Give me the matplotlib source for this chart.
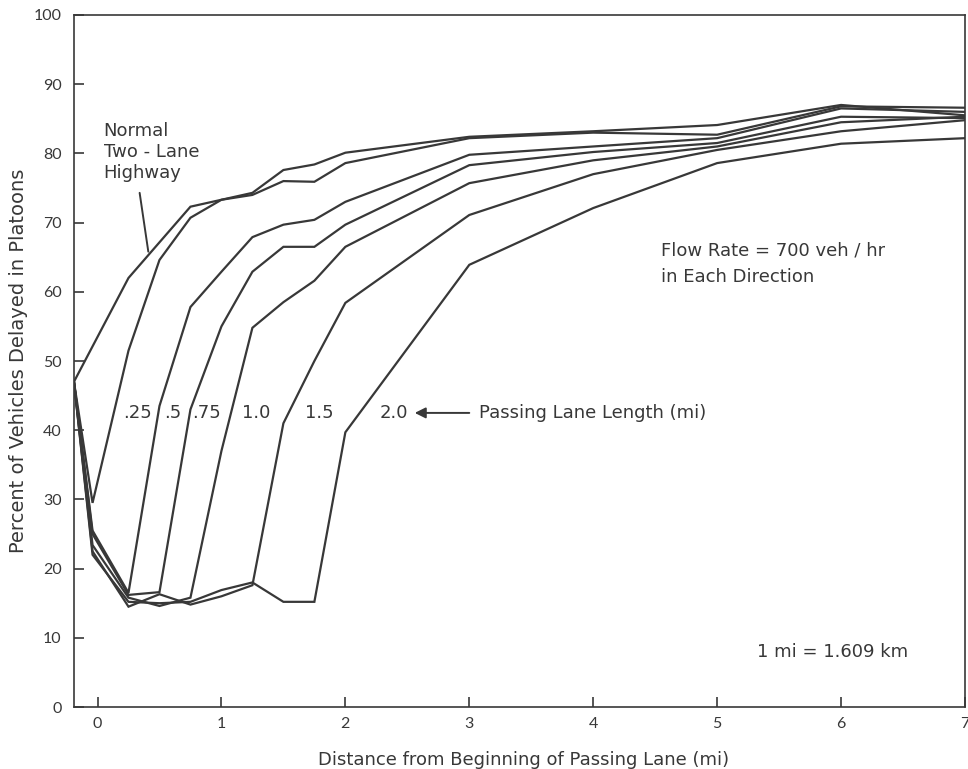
"""
Percent of vehicles delayed in platoons downstream of a passing lane,
for several passing lane lengths, against a normal two-lane highway.
"""

import matplotlib
matplotlib.use('Agg')
import matplotlib.pyplot as plt

# Distance from beginning of passing lane (mi)
DIST = [-0.19, -0.04, 0.25, 0.5, 0.75, 1.0, 1.25, 1.5, 1.75, 2.0, 3, 4, 5, 6, 7]

# Normal two-lane highway (no passing lane)
NORMAL_DIST = [-0.19, 0.25, 0.75, 1.0, 1.25, 1.5, 1.75, 2.0, 3, 4, 5, 6, 7]
NORMAL_PCT = [47, 62, 72.3, 73.3, 74.3, 77.6, 78.4, 80.1, 82.4, 83.2, 84.1, 87.0, 85.5]

# Passing lane lengths (mi) and their curves
LANE_LABELS = ['.25', '.5', '.75', '1.0', '1.5', '2.0']
LANE_PCT = [
    [47, 29.5, 51.5, 64.6, 70.7, 73.3, 74.0, 76.0, 75.9, 78.6, 82.2, 83.0, 82.7, 86.8, 86.6],
    [47, 25.5, 16.5, 43.5, 57.8, 62.9, 67.9, 69.7, 70.4, 73.0, 79.8, 81.0, 82.2, 86.5, 86.0],
    [47, 25.0, 16.2, 16.6, 43.0, 55.0, 62.9, 66.5, 66.5, 69.7, 78.3, 80.2, 81.5, 85.3, 85.1],
    [47, 23.4, 15.8, 14.6, 15.8, 37.0, 54.8, 58.5, 61.6, 66.5, 75.7, 79.0, 81.0, 84.5, 85.3],
    [47, 22.5, 14.5, 16.3, 14.8, 16.0, 17.6, 41.0, 50.0, 58.4, 71.1, 77.0, 80.5, 83.2, 84.8],
    [47, 22.0, 15.2, 15.0, 15.2, 16.9, 18.0, 15.2, 15.2, 39.7, 63.9, 72.1, 78.6, 81.4, 82.2],
]
# where each length label sits (x, y in data units)
LABEL_X = [0.32, 0.61, 0.88, 1.28, 1.79, 2.39]
LABEL_Y = 42.5

X_TICKS = [0, 1, 2, 3, 4, 5, 6, 7]
Y_TICKS = [0, 10, 20, 30, 40, 50, 60, 70, 80, 90, 100]

INK = '#383838'
FS = 13          # annotation / axis title text
TICK_FS = 11.5   # tick numbers

plt.rcParams['font.family'] = ['DejaVu Sans']
TICK_FONT = ['Lato', 'DejaVu Sans']


def main():
    fig = plt.figure(figsize=(9.68, 7.69), dpi=100)
    ax = fig.add_axes([0.0764, 0.0806, 0.9205, 0.8999])

    ax.plot(NORMAL_DIST, NORMAL_PCT, color=INK, lw=1.6, solid_joinstyle='miter')
    for pct in LANE_PCT:
        ax.plot(DIST, pct, color=INK, lw=1.6, solid_joinstyle='miter')

    ax.set_xlim(-0.19, 7.0)
    ax.set_ylim(0, 100)
    ax.set_xticks(X_TICKS)
    ax.set_yticks(Y_TICKS)
    ax.tick_params(direction='in', length=7, width=1.2, color=INK,
                   labelsize=TICK_FS, labelcolor=INK)
    ax.tick_params(axis='y', pad=9)
    ax.tick_params(axis='x', pad=7)
    for lab in ax.get_xticklabels() + ax.get_yticklabels():
        lab.set_family(TICK_FONT)
    for sp in ax.spines.values():
        sp.set_color(INK)
        sp.set_linewidth(1.2)

    ax.set_xlabel('Distance from Beginning of Passing Lane (mi)', fontsize=FS,
                  color=INK)
    ax.xaxis.set_label_coords(0.505, -0.063)
    ax.set_ylabel('Percent of Vehicles Delayed in Platoons', fontsize=14,
                  color=INK)
    ax.yaxis.set_label_coords(-0.052, 0.5)

    # curve labels
    for lbl, lx in zip(LANE_LABELS, LABEL_X):
        ax.text(lx, LABEL_Y, lbl, fontsize=FS, color=INK, ha='center', va='center')
    ax.annotate('', xy=(2.56, LABEL_Y), xytext=(3.0, LABEL_Y),
                arrowprops=dict(arrowstyle='-|>', color=INK, lw=1.4,
                                mutation_scale=16, shrinkA=0, shrinkB=0))
    ax.text(3.08, LABEL_Y, 'Passing Lane Length (mi)', fontsize=FS, color=INK,
            va='center')

    # normal highway label with pointer
    ax.text(0.05, 80.2, 'Normal\nTwo - Lane\nHighway', fontsize=FS, color=INK,
            va='center', linespacing=1.22)
    ax.annotate('', xy=(0.41, 65.8), xytext=(0.34, 74.3),
                arrowprops=dict(arrowstyle='-', color=INK, lw=1.4,
                                shrinkA=0, shrinkB=0))

    ax.text(4.55, 66.0, 'Flow Rate = 700 veh / hr', fontsize=FS, color=INK,
            va='center')
    ax.text(4.55, 62.2, 'in Each Direction', fontsize=FS, color=INK,
            va='center')
    ax.text(5.32, 7.9, '1 mi = 1.609 km', fontsize=FS, color=INK, va='center')

    fig.savefig('out.png', dpi=100, facecolor='white')


if __name__ == "__main__":
    main()
